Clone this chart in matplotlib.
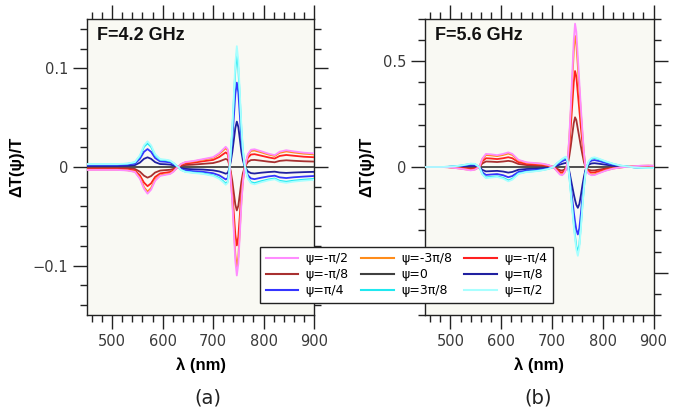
import matplotlib
matplotlib.use("Agg")
import matplotlib.pyplot as plt
from matplotlib.ticker import MultipleLocator, FuncFormatter

# ---------------- data ----------------
labels = ["ψ=-π/2", "ψ=-3π/8", "ψ=-π/4", "ψ=-π/8", "ψ=0", "ψ=π/8", "ψ=π/4", "ψ=3π/8", "ψ=π/2"]
colors = ["#ff8cff", "#ff8c1a", "#ff2020", "#a83030", "#404040", "#2020a0", "#3535ff", "#20e8f0", "#a8ffff"]

lam_a = [450, 480, 510, 530, 545, 555, 563, 570, 577, 585, 595, 605, 615, 622, 627, 631, 636, 645, 660, 680,
         700, 712, 720, 725, 729, 732, 735, 738, 741, 744, 747, 750, 753, 756, 759, 762, 765, 769, 775, 782,
         795, 810, 822, 832, 845, 860, 880, 900]

a_m4 = [-0.003, -0.003, -0.003, -0.0035, -0.005, -0.012, -0.022, -0.027, -0.023, -0.014, -0.009, -0.008, -0.007,
        -0.0045, -0.0015, 0.0, 0.003, 0.005, 0.006, 0.008, 0.010, 0.014, 0.018, 0.0205, 0.018, 0.006, -0.012,
        -0.035, -0.065, -0.095, -0.110, -0.098, -0.068, -0.038, -0.016, -0.003, 0.005, 0.013, 0.0175, 0.018,
        0.016, 0.0135, 0.012, 0.0155, 0.017, 0.0158, 0.0145, 0.0138]
a_m3 = [-0.0028, -0.0028, -0.0028, -0.0033, -0.0047, -0.011, -0.0205, -0.025, -0.0214, -0.013, -0.0084, -0.0074,
        -0.0065, -0.0042, -0.0014, 0.0, 0.0028, 0.0047, 0.0056, 0.0074, 0.0093, 0.013, 0.0167, 0.019, 0.0167,
        0.0056, -0.011, -0.0325, -0.060, -0.088, -0.102, -0.091, -0.063, -0.035, -0.0149, -0.0028, 0.0047, 0.012,
        0.0163, 0.0167, 0.0149, 0.0126, 0.0112, 0.0144, 0.0158, 0.0147, 0.0135, 0.0128]
a_m2 = [-0.0022, -0.0022, -0.0022, -0.0025, -0.0036, -0.0086, -0.0158, -0.0194, -0.0166, -0.0101, -0.0065, -0.0058,
        -0.005, -0.0032, -0.0011, 0.0, 0.0022, 0.0036, 0.0043, 0.0058, 0.0072, 0.0101, 0.013, 0.0148, 0.013,
        0.0043, -0.0086, -0.0252, -0.0468, -0.0684, -0.0795, -0.0706, -0.049, -0.0274, -0.0115, -0.0022, 0.0036,
        0.0094, 0.0126, 0.013, 0.0115, 0.0097, 0.0086, 0.0112, 0.0122, 0.0114, 0.0104, 0.0099]
a_m1 = [-0.0012, -0.0012, -0.0012, -0.0014, -0.002, -0.0048, -0.0088, -0.0108, -0.0092, -0.0056, -0.0036, -0.0032,
        -0.0028, -0.0018, -0.0006, 0.0, 0.0012, 0.002, 0.0024, 0.0032, 0.004, 0.0056, 0.0072, 0.0082, 0.0072,
        0.0024, -0.0048, -0.014, -0.026, -0.038, -0.044, -0.0392, -0.0272, -0.0152, -0.0064, -0.0012, 0.002,
        0.0052, 0.007, 0.0072, 0.0064, 0.0054, 0.0048, 0.0062, 0.0068, 0.0063, 0.0058, 0.0055]
a_0 = [0.0] * len(lam_a)
a_p1 = [0.0011, 0.0011, 0.0011, 0.0013, 0.0019, 0.0045, 0.0083, 0.0098, 0.0083, 0.0049, 0.003, 0.0028, 0.0024,
        0.0015, 0.0006, 0.0, -0.0011, -0.0019, -0.0023, -0.0026, -0.0034, -0.0045, -0.0058, -0.0068, -0.006,
        -0.0019, 0.0056, 0.015, 0.027, 0.0394, 0.046, 0.0405, 0.0281, 0.0158, 0.0068, 0.0015, -0.0015, -0.0045,
        -0.0062, -0.0066, -0.0058, -0.0051, -0.0047, -0.0056, -0.006, -0.0056, -0.0052, -0.0049]
a_p2 = [0.0021, 0.0021, 0.0021, 0.0025, 0.0035, 0.0084, 0.0154, 0.0182, 0.0154, 0.0091, 0.0056, 0.0053, 0.0046,
        0.0028, 0.0011, 0.0, -0.0021, -0.0035, -0.0042, -0.0049, -0.0063, -0.0084, -0.0109, -0.0126, -0.0112,
        -0.0035, 0.0105, 0.028, 0.050, 0.0735, 0.0855, 0.0756, 0.0525, 0.0294, 0.0126, 0.0028, -0.0028, -0.0084,
        -0.0116, -0.0123, -0.0109, -0.0095, -0.0088, -0.0105, -0.0112, -0.0104, -0.0097, -0.0091]
a_p3 = [0.0028, 0.0028, 0.0028, 0.0033, 0.0047, 0.011, 0.0205, 0.024, 0.0205, 0.012, 0.0074, 0.007, 0.006,
        0.0037, 0.0014, 0.0, -0.0028, -0.0047, -0.0056, -0.0065, -0.0084, -0.011, -0.0144, -0.0167, -0.0149,
        -0.0047, 0.014, 0.037, 0.067, 0.098, 0.115, 0.100, 0.070, 0.039, 0.0167, 0.0037, -0.0037, -0.011,
        -0.0153, -0.0163, -0.0144, -0.0126, -0.0116, -0.014, -0.0149, -0.0138, -0.0128, -0.0121]
a_p4 = [0.003, 0.003, 0.003, 0.0035, 0.005, 0.012, 0.022, 0.026, 0.022, 0.013, 0.008, 0.0075, 0.0065, 0.004,
        0.0015, 0.0, -0.003, -0.005, -0.006, -0.007, -0.009, -0.012, -0.0155, -0.018, -0.016, -0.005, 0.015,
        0.040, 0.072, 0.105, 0.1225, 0.108, 0.075, 0.042, 0.018, 0.004, -0.004, -0.012, -0.0165, -0.0175,
        -0.0155, -0.0135, -0.0125, -0.015, -0.016, -0.0148, -0.0138, -0.013]

lam_b = [450, 480, 495, 510, 525, 540, 548, 557, 563, 570, 580, 592, 604, 614, 622, 634, 650, 665, 680, 692,
         703, 710, 716, 720, 724, 728, 731, 734, 737, 740, 743, 745.5, 748, 751, 754, 757, 760, 763, 766, 769,
         773, 778, 784, 792, 805, 820, 835, 850, 862, 875, 890, 900]

b_m4 = [0, 0, -0.001, -0.005, -0.010, -0.016, -0.013, 0.0, 0.040, 0.062, 0.060, 0.056, 0.062, 0.069, 0.062, 0.034,
        0.022, 0.019, 0.016, 0.010, 0.0, -0.020, -0.036, -0.039, -0.030, -0.010, 0.030, 0.14, 0.28, 0.44, 0.60,
        0.678, 0.64, 0.52, 0.40, 0.28, 0.17, 0.07, 0.0, -0.02, -0.033, -0.039, -0.038, -0.030, -0.018, -0.008,
        -0.002, 0.001, 0.004, 0.006, 0.007, 0.006]
b_m3 = [0, 0, -0.0009, -0.0046, -0.0092, -0.0147, -0.012, 0.0, 0.0368, 0.057, 0.055, 0.0515, 0.057, 0.0635,
        0.057, 0.0313, 0.0202, 0.0175, 0.0147, 0.0092, 0.0, -0.0184, -0.0331, -0.0359, -0.0276, -0.0092, 0.0276,
        0.128, 0.256, 0.402, 0.549, 0.62, 0.585, 0.476, 0.366, 0.256, 0.156, 0.064, 0.0, -0.0184, -0.0304,
        -0.0359, -0.035, -0.0276, -0.0166, -0.0074, -0.0018, 0.0009, 0.0037, 0.0055, 0.0064, 0.0055]
b_m2 = [0, 0, -0.0007, -0.0034, -0.0067, -0.0107, -0.0087, 0.0, 0.0268, 0.0415, 0.0402, 0.0375, 0.0415, 0.0462,
        0.0415, 0.0228, 0.0147, 0.0127, 0.0107, 0.0067, 0.0, -0.0134, -0.0241, -0.0261, -0.0201, -0.0067, 0.0201,
        0.094, 0.188, 0.295, 0.402, 0.454, 0.429, 0.348, 0.268, 0.188, 0.114, 0.047, 0.0, -0.0134, -0.0221,
        -0.0261, -0.0255, -0.0201, -0.0121, -0.0054, -0.0013, 0.0007, 0.0027, 0.004, 0.0047, 0.004]
b_m1 = [0, 0, -0.0004, -0.0021, -0.0042, -0.0067, -0.0055, 0.0, 0.0168, 0.026, 0.0252, 0.0235, 0.026, 0.029,
        0.026, 0.0143, 0.0092, 0.008, 0.0067, 0.0042, 0.0, -0.0084, -0.0151, -0.0164, -0.0126, -0.0042, 0.0104,
        0.049, 0.097, 0.153, 0.208, 0.235, 0.222, 0.18, 0.139, 0.097, 0.059, 0.024, 0.0, -0.0084, -0.0139,
        -0.0164, -0.016, -0.0126, -0.0076, -0.0034, -0.0008, 0.0004, 0.0017, 0.0025, 0.0029, 0.0025]
b_0 = [0.0] * len(lam_b)
b_p1 = [0, 0, 0.0004, 0.0016, 0.0035, 0.0062, 0.0059, 0.0, -0.0137, -0.0207, -0.0195, -0.0183, -0.0215, -0.0265,
        -0.0234, -0.0129, -0.0094, -0.0082, -0.0062, -0.0039, 0.0, 0.007, 0.0117, 0.0148, 0.0176, 0.0191, 0.0098,
        -0.0184, -0.055, -0.092, -0.129, -0.156, -0.179, -0.193, -0.175, -0.133, -0.087, -0.046, -0.0138, 0.002,
        0.0117, 0.0168, 0.0179, 0.0156, 0.0109, 0.0062, 0.0027, 0.0008, -0.0008, -0.0016, -0.002, -0.002]
b_p2 = [0, 0, 0.0007, 0.0028, 0.0064, 0.0114, 0.0107, 0.0, -0.0249, -0.0376, -0.0355, -0.0334, -0.039, -0.0483,
        -0.0426, -0.0234, -0.017, -0.0149, -0.0114, -0.0071, 0.0, 0.0128, 0.0213, 0.027, 0.032, 0.0348, 0.0178,
        -0.0304, -0.091, -0.152, -0.213, -0.258, -0.296, -0.319, -0.289, -0.22, -0.144, -0.076, -0.0228, 0.0036,
        0.0213, 0.0305, 0.0327, 0.0284, 0.0199, 0.0114, 0.005, 0.0014, -0.0014, -0.0028, -0.0036, -0.0036]
b_p3 = [0, 0, 0.0009, 0.0037, 0.0084, 0.0149, 0.014, 0.0, -0.0326, -0.0493, -0.0465, -0.0437, -0.0512, -0.0632,
        -0.0558, -0.0307, -0.0223, -0.0195, -0.0149, -0.0093, 0.0, 0.0167, 0.0279, 0.0353, 0.0419, 0.0456, 0.0233,
        -0.0384, -0.115, -0.192, -0.269, -0.326, -0.374, -0.403, -0.365, -0.278, -0.182, -0.096, -0.0288, 0.0047,
        0.0279, 0.04, 0.0428, 0.0372, 0.026, 0.0149, 0.0065, 0.0019, -0.0019, -0.0037, -0.0047, -0.0047]
b_p4 = [0, 0, 0.001, 0.004, 0.009, 0.016, 0.015, 0.0, -0.035, -0.053, -0.050, -0.047, -0.055, -0.068, -0.060,
        -0.033, -0.024, -0.021, -0.016, -0.010, 0.0, 0.018, 0.030, 0.038, 0.045, 0.049, 0.025, -0.04, -0.12, -0.20,
        -0.28, -0.34, -0.39, -0.42, -0.38, -0.29, -0.19, -0.10, -0.03, 0.005, 0.03, 0.043, 0.046, 0.040, 0.028,
        0.016, 0.007, 0.002, -0.002, -0.004, -0.005, -0.005]

series_a = [a_m4, a_m3, a_m2, a_m1, a_0, a_p1, a_p2, a_p3, a_p4]
series_b = [b_m4, b_m3, b_m2, b_m1, b_0, b_p1, b_p2, b_p3, b_p4]

x_ticks = [500, 600, 700, 800, 900]
yticks_a = [-0.1, 0.0, 0.1]
yticks_b = [-0.5, 0.0, 0.5]
hidden_b = [-0.5]              # this label sits under the legend in the reference
panel_titles = ["F=4.2 GHz", "F=5.6 GHz"]
panel_tags = ["(a)", "(b)"]

# ---------------- figure ----------------
plt.rcParams["font.family"] = ["DejaVu Sans"]
fig = plt.figure(figsize=(6.82, 4.13), dpi=100)
fig.patch.set_facecolor("white")

W, H = 682.0, 413.0
ax_a = fig.add_axes([87 / W, (H - 315) / H, 227 / W, 296 / H])
ax_b = fig.add_axes([425 / W, (H - 315) / H, 228.5 / W, 296 / H])


def make_fmt(hidden):
    def fmt(v, pos):
        if any(abs(v - h) < 1e-9 for h in hidden):
            return ""
        if abs(v) < 1e-9:
            return "0"
        return ("%g" % v).replace("-", "\u2212")
    return fmt


bold_font = ["Liberation Sans", "DejaVu Sans"]

configs = [
    (ax_a, lam_a, series_a, (-0.15, 0.15), yticks_a, 0.02, []),
    (ax_b, lam_b, series_b, (-0.7, 0.7), yticks_b, 0.1, hidden_b),
]

handles = []
for i, (ax, lam, series, ylim, yt, ymin, hid) in enumerate(configs):
    ax.set_facecolor("#f9f9f3")
    order = [4, 3, 5, 2, 6, 1, 7, 0, 8]
    hs = {}
    for k in order:
        (ln,) = ax.plot(lam, series[k], color=colors[k], lw=1.3, label=labels[k], zorder=3)
        hs[k] = ln
    if i == 0:
        handles = [hs[k] for k in range(9)]
    ax.set_xlim(450, 900)
    ax.set_ylim(*ylim)
    ax.set_xticks(x_ticks)
    ax.xaxis.set_minor_locator(MultipleLocator(20))
    ax.set_yticks(yt)
    ax.yaxis.set_minor_locator(MultipleLocator(ymin))
    ax.yaxis.set_major_formatter(FuncFormatter(make_fmt(hid)))
    ax.tick_params(which="both", direction="out", top=True, right=True,
                   labelsize=10.5, labelcolor="#3a3a3a", color="#222222", width=1.0)
    ax.tick_params(which="major", length=10)
    ax.tick_params(which="minor", length=5)
    for sp in ax.spines.values():
        sp.set_color("#222222")
        sp.set_linewidth(1.0)
    ax.set_xlabel("λ (nm)", fontsize=12, fontweight="bold", family=bold_font, labelpad=6)
    ax.set_ylabel("ΔT(ψ)/T", fontsize=12, fontweight="bold", family=bold_font, labelpad=6)
    ax.text(0.045, 0.945, panel_titles[i], transform=ax.transAxes, fontsize=13, fontweight="bold",
            family=bold_font, ha="left", va="center", color="#111111")

fig.text(208 / W, 1 - 398 / H, panel_tags[0], fontsize=14, ha="center", va="center", color="#222222")
fig.text(538 / W, 1 - 398 / H, panel_tags[1], fontsize=14, ha="center", va="center", color="#222222")

# legend is filled row by row as in the reference (matplotlib fills columns)
ncol = 3
nrow = 3
leg_order = [r * ncol + c for c in range(ncol) for r in range(nrow)]
leg = fig.legend(handles=[handles[k] for k in leg_order], labels=[labels[k] for k in leg_order],
                 ncol=ncol, loc="lower left",
                 bbox_to_anchor=(260 / W, (H - 303) / H, 293 / W, 57 / H), mode="expand",
                 fontsize=9, frameon=True, fancybox=False, framealpha=1.0, edgecolor="#222222",
                 borderaxespad=0.0, handlelength=2.6, handletextpad=0.6, columnspacing=0.8,
                 labelspacing=0.25, borderpad=0.45)
leg.get_frame().set_linewidth(1.0)
for ln in leg.get_lines():
    ln.set_linewidth(1.5)

fig.savefig("out.png", dpi=100, facecolor="white")
